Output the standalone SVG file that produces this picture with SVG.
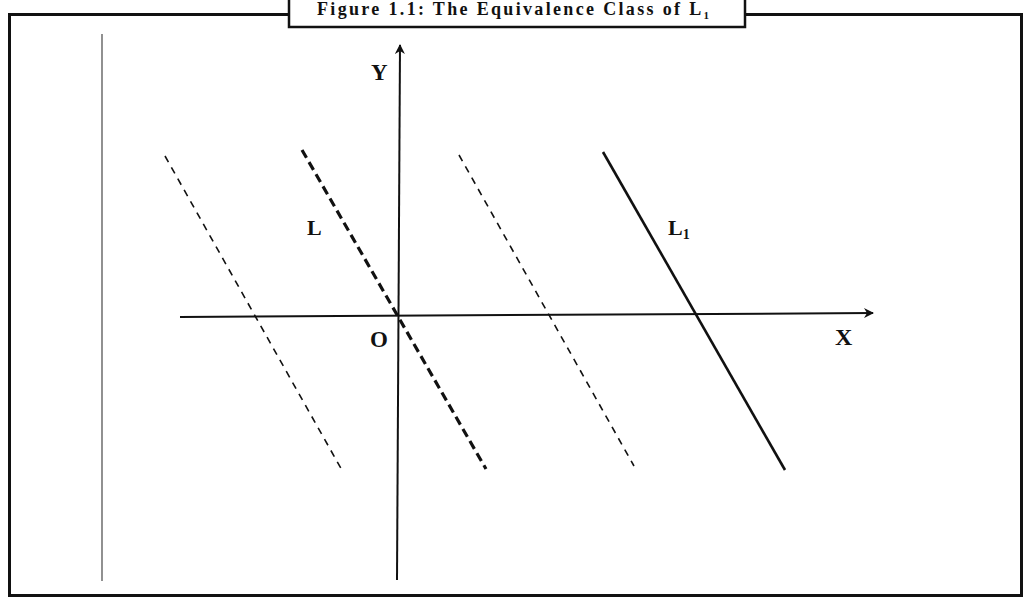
<svg xmlns="http://www.w3.org/2000/svg" width="1026" height="598" viewBox="0 0 1026 598">
<style>
.lbl{font-family:"Liberation Serif","DejaVu Serif",serif;font-weight:bold;fill:#111;}
.thin{stroke:#111;stroke-width:1.6;stroke-dasharray:7 6;fill:none;}
.axis{stroke:#111;stroke-width:2;fill:none;}
</style>
<defs>
<marker id="arr" viewBox="0 0 10 10" refX="9" refY="5" markerWidth="10" markerHeight="10" markerUnits="userSpaceOnUse" orient="auto">
<path d="M0,0 L10,5 L0,10 L3,5 Z" fill="#111"/>
</marker>
</defs>
<rect x="0" y="0" width="1026" height="598" fill="#fff"/>
<rect id="frame" x="9.5" y="14.5" width="1012" height="581" fill="none" stroke="#111" stroke-width="3"/>
<line x1="102" y1="34" x2="102" y2="581" stroke="#555" stroke-width="1.3"/>
<g id="title">
<rect x="289" y="-4" width="456" height="31" fill="#fff" stroke="#111" stroke-width="2.5"/>
<text class="lbl" x="317" y="15" font-size="18" textLength="392" lengthAdjust="spacing">Figure 1.1: The Equivalence Class of L<tspan font-size="11" dy="4">1</tspan></text>
</g>
<g id="connectors">
<line id="x-axis" class="axis" x1="180" y1="317" x2="873" y2="313" marker-end="url(#arr)"/>
<line id="y-axis" class="axis" x1="397" y1="580" x2="400" y2="45" marker-end="url(#arr)"/>
<line id="line-a" class="thin" x1="165" y1="156" x2="343" y2="472"/>
<line id="line-L" stroke="#111" stroke-width="3.2" stroke-dasharray="9 5" x1="302" y1="150" x2="486" y2="469"/>
<line id="line-b" class="thin" x1="459" y1="155" x2="634" y2="466"/>
<line id="line-L1" stroke="#111" stroke-width="2.6" x1="603" y1="152" x2="785" y2="470"/>
</g>
<g id="labels">
<text class="lbl" x="371" y="80" font-size="23">Y</text>
<text class="lbl" x="307" y="235" font-size="22">L</text>
<text class="lbl" x="668" y="235" font-size="22">L<tspan font-size="14" dy="4">1</tspan></text>
<text class="lbl" x="370" y="347" font-size="23" font-weight="normal">O</text>
<text class="lbl" x="835" y="345" font-size="24">X</text>
</g>
</svg>
